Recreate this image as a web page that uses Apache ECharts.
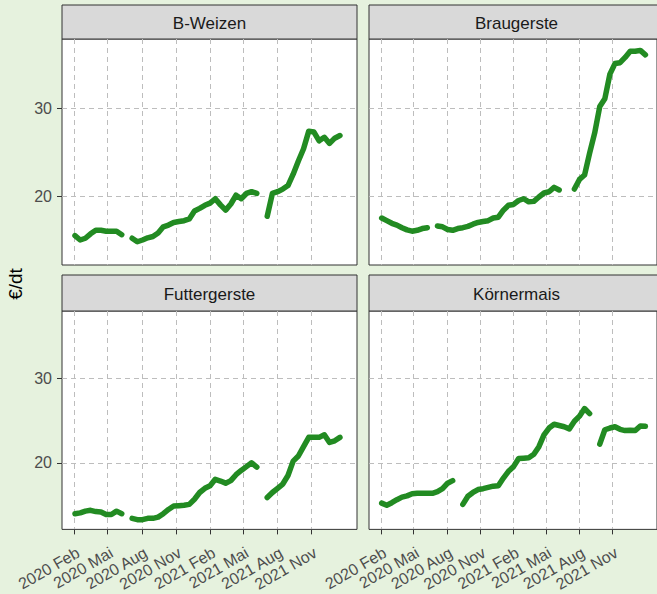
<!DOCTYPE html>
<html>
<head>
<meta charset="utf-8">
<script src="https://cdn.jsdelivr.net/npm/echarts@6/dist/echarts.min.js"></script>
<style>
html,body{margin:0;padding:0;background:#e6f2de;}
#chart{width:657px;height:594px;}
</style>
</head>
<body>
<div id="chart"></div>
<script>
// ---- data (biweekly observations) ----
const dates = [
 '2020-02-03','2020-02-17','2020-03-02','2020-03-16','2020-03-30','2020-04-13','2020-04-27','2020-05-11','2020-05-25','2020-06-08',
 '2020-06-22','2020-07-06','2020-07-20','2020-08-03','2020-08-17','2020-08-31','2020-09-14','2020-09-28','2020-10-12','2020-10-26',
 '2020-11-09','2020-11-23','2020-12-07','2020-12-21','2021-01-04','2021-01-18','2021-02-01','2021-02-15','2021-03-01','2021-03-15',
 '2021-03-29','2021-04-12','2021-04-26','2021-05-10','2021-05-24','2021-06-07','2021-06-21','2021-07-05','2021-07-19','2021-08-02',
 '2021-08-16','2021-08-30','2021-09-13','2021-09-27','2021-10-11','2021-10-25','2021-11-08','2021-11-22','2021-12-06','2021-12-20',
 '2022-01-03','2022-01-17','2022-01-31'
];
const panelNames = ['B-Weizen','Braugerste','Futtergerste','Körnermais'];
const bWeizen = [
 15.5,15.0,15.2,15.7,16.1,16.1,16.0,16.0,16.0,15.6,
 null,15.2,14.8,15.0,15.25,15.4,15.8,16.5,16.7,17.0,
 17.1,17.2,17.4,18.3,18.6,18.95,19.2,19.7,19.0,18.4,
 19.1,20.1,19.7,20.3,20.5,20.3,null,17.7,20.3,20.5,
 20.8,21.2,22.5,24.0,25.4,27.4,27.3,26.3,26.7,26.0,
 26.6,26.9,null
];
const braugerste = [
 17.5,17.2,16.9,16.7,16.4,16.15,16.0,16.1,16.3,16.4,
 null,16.6,16.5,16.2,16.1,16.3,16.4,16.55,16.8,17.0,
 17.1,17.2,17.5,17.6,18.4,18.95,19.05,19.5,19.7,19.35,
 19.4,19.9,20.35,20.5,21.0,20.7,null,null,20.8,21.9,
 22.4,24.9,27.2,30.2,31.1,33.9,35.1,35.2,35.8,36.5,
 36.5,36.6,36.1
];
const futtergerste = [
 14.0,14.1,14.3,14.4,14.25,14.2,13.9,13.9,14.3,14.0,
 null,13.45,13.3,13.3,13.45,13.45,13.6,14.0,14.5,14.9,
 14.95,15.0,15.1,15.7,16.5,17.0,17.3,18.05,17.85,17.6,
 17.9,18.6,19.1,19.55,20.0,19.5,null,15.9,16.5,17.0,
 17.5,18.5,20.2,20.8,21.9,23.0,23.0,23.0,23.3,22.4,
 22.6,23.0,null
];
const koernermais = [
 15.25,15.0,15.3,15.65,15.95,16.1,16.35,16.4,16.4,16.4,
 16.4,16.6,16.95,17.6,17.9,null,15.1,16.05,16.5,16.85,
 16.95,17.1,17.25,17.3,18.2,19.0,19.55,20.5,20.55,20.6,
 21.0,21.9,23.3,24.1,24.55,24.4,24.25,24.0,24.9,25.5,
 26.4,25.8,null,22.2,23.9,24.1,24.25,23.95,23.8,23.85,
 23.8,24.35,24.3
];
const xTicks = ['2020-02-01','2020-05-01','2020-08-01','2020-11-01','2021-02-01','2021-05-01','2021-08-01','2021-11-01'];
const monthNames = ['Jan','Feb','Mär','Apr','Mai','Jun','Jul','Aug','Sep','Okt','Nov','Dez'];
const yTicks = [20, 30];
const yTitle = '€/dt';
const xRange = ['2019-12-30', '2022-03-04'];

// ---- layout ----
const FONT = 'Liberation Sans, Arial, sans-serif';
const seriesVals = [bWeizen, braugerste, futtergerste, koernermais];
const grids = [
  {left:62, top:39, width:295, height:226},
  {left:369, top:39, width:295, height:226},
  {left:62, top:311, width:295, height:224},
  {left:369, top:311, width:295, height:224}
];
const strips = [
  {y:5, h:34}, {y:5, h:34}, {y:275, h:36}, {y:275, h:36}
];
const gridLine = {show:true, lineStyle:{color:'#bdbdbd', width:1, type:[5,4]}};
const ts = s => Date.parse(s + 'T00:00:00Z');
const xTickTs = xTicks.map(ts);

const chart = echarts.init(document.getElementById('chart'), null, {renderer:'svg'});

const graphic = [];
grids.forEach((g, i) => {
  graphic.push({
    type:'rect', silent:true,
    shape:{x:g.left, y:strips[i].y, width:g.width, height:strips[i].h},
    style:{fill:'#d9d9d9', stroke:'#333333', lineWidth:1}
  });
  graphic.push({
    type:'text', silent:true,
    x:g.left + g.width/2, y:strips[i].y + strips[i].h/2 + 1,
    style:{text:panelNames[i], fill:'#1a1a1a', font:'17px ' + FONT, align:'center', verticalAlign:'middle'}
  });
});
graphic.push({
  type:'text', silent:true, x:15, y:284, rotation:Math.PI/2,
  style:{text:yTitle, fill:'#000', font:'19px ' + FONT, align:'center', verticalAlign:'middle'}
});

const option = {
  backgroundColor:'#e6f2de',
  animation:false,
  grid: grids.map(g => Object.assign({show:true, backgroundColor:'#ffffff', borderColor:'#333333', borderWidth:1, containLabel:false}, g)),
  xAxis: grids.map((g, i) => ({
    type:'value', gridIndex:i, min:ts(xRange[0]), max:ts(xRange[1]),
    axisLine:{show:false},
    axisTick:{show:i>=2, customValues:xTickTs, length:5, lineStyle:{color:'#333333'}},
    axisLabel:{show:i>=2, customValues:xTickTs, rotate:30, fontSize:16, fontFamily:FONT, color:'#4d4d4d',
      margin:15, align:'right', verticalAlign:'top',
      hideOverlap:false,
      formatter: v => { const d = new Date(v); return d.getUTCFullYear() + ' ' + monthNames[d.getUTCMonth()]; }},
    splitLine:gridLine,
    minorSplitLine:{show:false}
  })),
  yAxis: grids.map((g, i) => ({
    type:'value', gridIndex:i, min:12.15, max:37.9,
    axisLine:{show:false},
    axisTick:{show:i%2===0, customValues:yTicks, length:5, lineStyle:{color:'#333333'}},
    axisLabel:{show:i%2===0, customValues:yTicks, fontSize:16, fontFamily:FONT, color:'#4d4d4d', margin:10},
    splitLine:gridLine
  })),
  series: seriesVals.map((vals, i) => ({
    type:'line', xAxisIndex:i, yAxisIndex:i, name:panelNames[i],
    showSymbol:false, connectNulls:false, silent:true,
    lineStyle:{color:'#228B22', width:5.5, cap:'round', join:'round'},
    data: dates.map((d, k) => [ts(d), vals[k] === null ? '-' : vals[k]])
  })),
  graphic: graphic
};
chart.setOption(option);
</script>
</body>
</html>
